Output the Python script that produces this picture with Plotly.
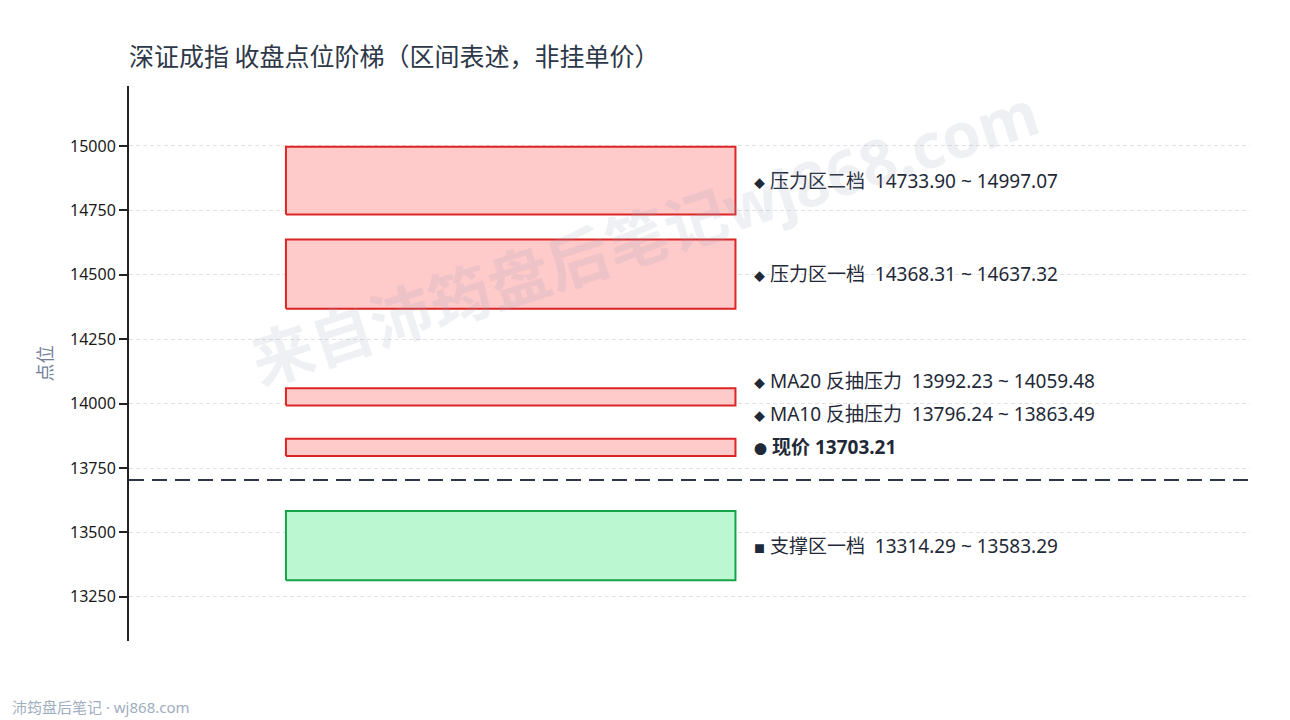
import plotly.graph_objects as go

# zones: name, low, high, kind
zone_names = ['压力区二档', '压力区一档', 'MA20 反抽压力', 'MA10 反抽压力', '支撑区一档']
zone_low = [14733.90, 14368.31, 13992.23, 13796.24, 13314.29]
zone_high = [14997.07, 14637.32, 14059.48, 13863.49, 13583.29]
zone_kind = ['resist', 'resist', 'resist', 'resist', 'support']

price_now = 13703.21
y_ticks = [13250, 13500, 13750, 14000, 14250, 14500, 14750, 15000]

FONT = 'Noto Sans, Noto Sans CJK SC'
TXT = '#1f2937'
BOX_X0, BOX_X1, LABEL_X = 0.14, 0.541, 0.556
LABEL_GAP = 128
SP = '\u00a0'

span = max(zone_high) - min(zone_low)
y_range = [min(zone_low) - span * 0.14, max(zone_high) + span * 0.14]

styles = {
    'resist': dict(fill='#fecaca', line='#dc2626', mark='◆'),
    'support': dict(fill='#bbf7d0', line='#16a34a', mark='■'),
}

fig = go.Figure()

for name, lo, hi, kind in zip(zone_names, zone_low, zone_high, zone_kind):
    st = styles[kind]
    fig.add_trace(go.Scatter(
        x=[BOX_X0, BOX_X1, BOX_X1, BOX_X0, BOX_X0],
        y=[lo, lo, hi, hi, lo],
        mode='lines', fill='toself', fillcolor=st['fill'],
        line=dict(color=st['line'], width=2),
        hoverinfo='skip', showlegend=False))

# current price line
fig.add_trace(go.Scatter(
    x=[0, 1], y=[price_now, price_now], mode='lines',
    line=dict(color='#2d3748', width=2, dash='15px,8px'),
    hoverinfo='skip', showlegend=False))

# labels: anchor, text; pushed up so they do not overlap
labels = []
for name, lo, hi, kind in zip(zone_names, zone_low, zone_high, zone_kind):
    mark = styles[kind]['mark']
    txt = f"<span style='font-size:11px'>{mark}</span> {name}{SP}{SP}{lo:.2f} ~ {hi:.2f}"
    labels.append([(lo + hi) / 2, (lo + hi) / 2, txt])
labels.append([price_now, price_now + LABEL_GAP,
               f"<span style='font-size:13px'>●</span> <b>现价 {price_now:.2f}</b>"])
labels.sort(key=lambda t: t[0])
for i in range(1, len(labels)):
    if labels[i][1] < labels[i - 1][1] + LABEL_GAP:
        labels[i][1] = labels[i - 1][1] + LABEL_GAP

for _, ly, txt in labels:
    fig.add_annotation(x=LABEL_X, y=ly, xref='x', yref='y', text=txt,
                       showarrow=False, xanchor='left', yanchor='middle',
                       font=dict(family=FONT, size=19, color=TXT))

# watermark
fig.add_annotation(x=0.46, y=0.73, xref='paper', yref='paper',
                   xanchor='center', yanchor='middle',
                   text='<b>来自沛筠盘后笔记wj868.com</b>', showarrow=False,
                   textangle=-18,
                   font=dict(family=FONT, size=62, color='rgba(150,160,185,0.16)'))

# footer
fig.add_annotation(x=-0.106, y=-0.119, xref='paper', yref='paper',
                   text='沛筠盘后笔记 · wj868.com', showarrow=False,
                   xanchor='left', yanchor='middle',
                   font=dict(family=FONT, size=15, color='#a0aec0'))

fig.update_layout(
    width=1290, height=720,
    margin=dict(l=129, r=40, t=86, b=79),
    paper_bgcolor='white', plot_bgcolor='white',
    title=dict(text='深证成指 收盘点位阶梯（区间表述，非挂单价）',
               x=129 / 1290, xanchor='left', y=1 - 57 / 720, yanchor='middle',
               font=dict(family='Noto Sans CJK SC', size=25, color='#2d3748')),
    xaxis=dict(range=[0, 1], visible=False, fixedrange=True),
    yaxis=dict(range=y_range, tickvals=y_ticks, tickformat='d',
               ticks='outside', ticklen=8,
               tickwidth=2, tickcolor='#222', showline=True, linewidth=2,
               linecolor='#222', gridcolor='#e2e2e2', griddash='4px,3px',
               zeroline=False,
               tickfont=dict(family=FONT, size=16, color='#1a1a1a'),
               title=dict(text='点位', standoff=13,
                          font=dict(family=FONT, size=18, color='#718096'))),
)

fig.write_html('out.html', config={'displayModeBar': False},
               post_script="document.body.style.margin='0';")
